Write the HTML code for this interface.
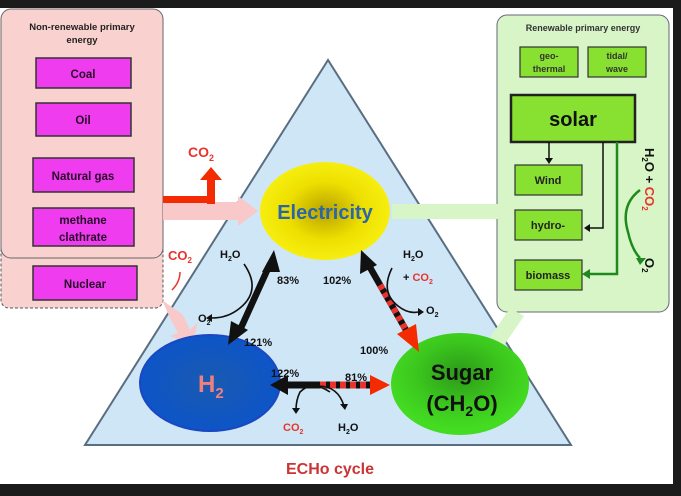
<!DOCTYPE html>
<html><head><meta charset="utf-8"><style>
html,body{margin:0;padding:0;background:#1b1b1b;width:681px;height:496px;overflow:hidden}
svg{display:block}
text{font-family:"Liberation Sans",sans-serif;font-weight:bold}
</style></head><body>
<svg width="681" height="496" viewBox="0 0 681 496" xmlns="http://www.w3.org/2000/svg">
<defs>
<radialGradient id="ye" cx="50%" cy="50%" r="50%"><stop offset="0" stop-color="#b8a200"/><stop offset="0.6" stop-color="#eee000"/><stop offset="1" stop-color="#f6ee10"/></radialGradient>
<radialGradient id="bl" cx="50%" cy="50%" r="50%"><stop offset="0" stop-color="#1a5ab0"/><stop offset="1" stop-color="#0d55c8"/></radialGradient>
<radialGradient id="gr" cx="50%" cy="40%" r="55%"><stop offset="0" stop-color="#2c9a18"/><stop offset="0.6" stop-color="#3cc81e"/><stop offset="1" stop-color="#44dc22"/></radialGradient>
</defs>
<rect x="0" y="8" width="673" height="476" fill="#fff"/>
<polygon points="328,60 85,445 571,445" fill="#cfe6f7" stroke="#5a6e82" stroke-width="2"/>
<rect x="1" y="240" width="162" height="68" rx="8" fill="#f9d2cf" stroke="#555" stroke-width="1" stroke-dasharray="3,2"/>
<rect x="1" y="9" width="162" height="249" rx="10" fill="#f9d2cf" stroke="#666" stroke-width="1"/>
<text x="82" y="30" font-size="9.5" text-anchor="middle" fill="#222">Non-renewable primary</text>
<text x="82" y="43" font-size="9.5" text-anchor="middle" fill="#222">energy</text>
<g fill="#ee3cee" stroke="#333" stroke-width="1.5">
<rect x="36" y="58" width="95" height="30"/><rect x="36" y="103" width="95" height="33"/>
<rect x="33" y="158" width="101" height="34"/><rect x="33" y="208" width="101" height="38"/>
<rect x="33" y="266" width="104" height="34"/></g>
<g font-size="11.5" text-anchor="middle" fill="#2a0a2a">
<text x="83" y="78">Coal</text><text x="83" y="124">Oil</text><text x="83" y="180">Natural gas</text>
<text x="83" y="224">methane</text><text x="83" y="241">clathrate</text><text x="85" y="288">Nuclear</text></g>
<polygon points="163,202 238,202 238,196 258,211 238,226 238,220 163,220" fill="#f9c8c8"/>
<path d="M163,204 L207,204 L207,180 L200,180 L211,167 L222,180 L215,180 L215,204" fill="#f42a00"/>
<rect x="163" y="196" width="50" height="7" fill="#f42a00"/>
<text x="188" y="157" font-size="14" fill="#e8342c">CO<tspan font-size="9" dy="4">2</tspan></text>
<path d="M162,300 L183,315 L190,330 L198,322 L192,345 L170,336 L178,333 L170,318 Z" fill="#f9c8c8"/>
<text x="168" y="260" font-size="13" fill="#e8342c">CO<tspan font-size="8" dy="3">2</tspan></text>
<path d="M172,290 Q180,282 180,272" stroke="#e8342c" stroke-width="1.5" fill="none"/>
<rect x="497" y="15" width="172" height="297" rx="10" fill="#d8f5c8" stroke="#667" stroke-width="1"/>
<text x="583" y="31" font-size="9" text-anchor="middle" fill="#333">Renewable primary energy</text>
<g fill="#88e030" stroke="#333" stroke-width="1.2">
<rect x="520" y="47" width="58" height="30"/><rect x="588" y="47" width="58" height="30"/>
<rect x="515" y="165" width="67" height="30"/><rect x="515" y="210" width="67" height="30"/><rect x="515" y="260" width="67" height="30"/></g>
<rect x="511" y="95" width="124" height="47" fill="#88e030" stroke="#222" stroke-width="2.5"/>
<g font-size="9" text-anchor="middle" fill="#333"><text x="549" y="59">geo-</text><text x="549" y="72">thermal</text><text x="617" y="59">tidal/</text><text x="617" y="72">wave</text></g>
<text x="573" y="126" font-size="20" text-anchor="middle" fill="#111">solar</text>
<g font-size="11" text-anchor="middle" fill="#222"><text x="548" y="184">Wind</text><text x="548" y="229">hydro-</text><text x="548" y="279">biomass</text></g>
<g stroke="#111" stroke-width="1.5" fill="none"><path d="M549,142 V160"/><path d="M603,142 V228 H588"/></g>
<polygon points="545,158 553,158 549,164" fill="#111"/><polygon points="590,224 590,232 584,228" fill="#111"/>
<path d="M617,142 V274 H588" stroke="#1e8a1e" stroke-width="2.5" fill="none"/><polygon points="590,269 590,279 582,274" fill="#1e8a1e"/>
<path d="M640,190 Q620,205 628,232 Q632,250 640,258" stroke="#1e8a1e" stroke-width="2.5" fill="none"/><polygon points="636,258 646,258 640,265" fill="#1e8a1e"/>
<g transform="translate(645,148) rotate(90)"><text font-size="13" fill="#111">H<tspan font-size="8" dy="3">2</tspan><tspan dy="-3">O + </tspan><tspan fill="#e8342c">CO</tspan><tspan fill="#e8342c" font-size="8" dy="3">2</tspan></text></g>
<g transform="translate(645,258) rotate(90)"><text font-size="13" fill="#111">O<tspan font-size="8" dy="3">2</tspan></text></g>
<rect x="392" y="204" width="122" height="15" fill="#d8f5c8"/>
<polygon points="510,308 524,316 494,360 480,352" fill="#d8f5c8"/>
<ellipse cx="325" cy="211" rx="65" ry="49" fill="url(#ye)"/>
<text x="325" y="219" font-size="20" text-anchor="middle" fill="#2a66a8">Electricity</text>
<ellipse cx="210" cy="383" rx="70" ry="48" fill="url(#bl)" stroke="#1b47c0" stroke-width="2"/>
<text x="198" y="392" font-size="24" fill="#f08080">H<tspan font-size="15" dy="6">2</tspan></text>
<ellipse cx="460" cy="384" rx="69" ry="51" fill="url(#gr)"/>
<text x="462" y="380" font-size="22" text-anchor="middle" fill="#111">Sugar</text>
<text x="462" y="411" font-size="22" text-anchor="middle" fill="#111">(CH<tspan font-size="14" dy="5">2</tspan><tspan dy="-5">O)</tspan></text>
<line x1="240" y1="330" x2="270" y2="264" stroke="#111" stroke-width="6.5"/>
<polygon points="274,250 262,272 280,272" fill="#111"/><polygon points="228,345 231,321 248,330" fill="#111"/>
<line x1="368" y1="264" x2="406" y2="330" stroke="#111" stroke-width="6.5"/>
<line x1="380" y1="285" x2="406" y2="330" stroke="#e8342c" stroke-width="6.5" stroke-dasharray="5,4"/>
<polygon points="361,250 360,274 377,265" fill="#111"/><polygon points="419,352 397,334 416,324" fill="#f42a00"/>
<line x1="285" y1="385" x2="372" y2="385" stroke="#111" stroke-width="7"/>
<line x1="320" y1="385" x2="372" y2="385" stroke="#e8342c" stroke-width="7" stroke-dasharray="6,4"/>
<polygon points="270,385 288,375 288,395" fill="#111"/><polygon points="390,385 370,375 370,395" fill="#f42a00"/>
<g stroke="#111" stroke-width="1.6" fill="none">
<path d="M244,264 Q262,290 240,308 Q228,318 212,318"/>
<path d="M392,268 Q380,292 398,306 Q408,314 418,312"/>
<path d="M330,392 Q312,380 300,392 Q296,400 296,410"/>
<path d="M318,386 Q338,386 344,406"/></g>
<g fill="#111"><polygon points="212,314 212,322 206,318"/><polygon points="418,308 418,316 424,312"/><polygon points="292,408 300,408 296,414"/><polygon points="340,404 348,404 345,410"/></g>
<g font-size="11" fill="#111">
<text x="220" y="258">H<tspan font-size="7" dy="3">2</tspan><tspan dy="-3">O</tspan></text>
<text x="198" y="322">O<tspan font-size="7" dy="3">2</tspan></text>
<text x="277" y="284">83%</text><text x="323" y="284">102%</text>
<text x="403" y="258">H<tspan font-size="7" dy="3">2</tspan><tspan dy="-3">O</tspan></text>
<text x="403" y="281">+ <tspan fill="#e8342c">CO</tspan><tspan font-size="7" dy="3" fill="#e8342c">2</tspan></text>
<text x="426" y="314">O<tspan font-size="7" dy="3">2</tspan></text>
<text x="244" y="346">121%</text><text x="360" y="354">100%</text>
<text x="271" y="377">122%</text><text x="345" y="381">81%</text>
<text x="338" y="431">H<tspan font-size="7" dy="3">2</tspan><tspan dy="-3">O</tspan></text>
<text x="283" y="431" fill="#e8342c">CO<tspan font-size="7" dy="3">2</tspan></text></g>
<text x="330" y="474" font-size="16" text-anchor="middle" fill="#cc3333">ECHo cycle</text>
</svg>
</body></html>
